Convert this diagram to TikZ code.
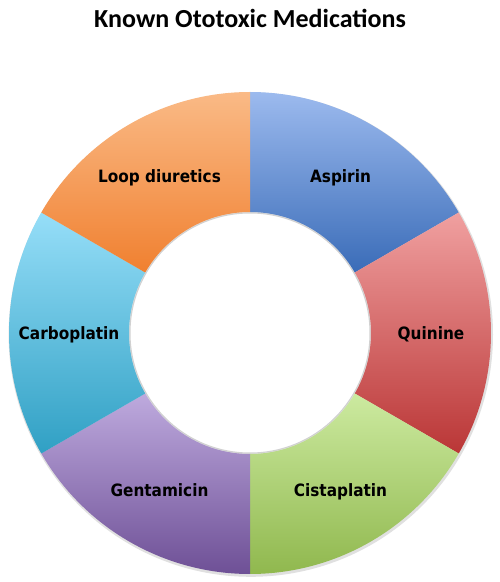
\documentclass[tikz,border=0pt]{standalone}
\usepackage{fontspec}
\setmainfont{Carlito}
\newfontfamily\labfont{DejaVu Sans}[FakeStretch=0.9]
\begin{document}
\begin{tikzpicture}[x=1pt,y=1pt,
  lbl/.style={font=\labfont\bfseries\fontsize{17}{20}\selectfont, text=black, inner sep=0pt, anchor=base, yshift=-6.3pt},
  ttl/.style={font=\bfseries\fontsize{26}{30}\selectfont, text=black, inner sep=0pt, anchor=base}]
\useasboundingbox (0,0) rectangle (500,582);
\fill[white] (0,0) rectangle (500,582);
\node[ttl] (title) at (250,554) {Known Ototoxic Medications};
\def\Ro{241}
\def\Ri{121}
\def\Rm{181}
\begin{scope}[shift={(250,249)}]
  % shadow
  \fill[black!12] (0.8,-1.6) circle (\Ro+1.2);
  \fill[white] (0,0) circle (\Ri-0.5);
  \draw[black!18, line width=1.2] (0,0) circle (\Ri-0.9);
  \newcommand\seg[4]{%
    \path[top color=#3, bottom color=#4, shading angle=0]
      (#1:\Ro) arc[start angle=#1, end angle=#2, radius=\Ro]
      -- (#2:\Ri) arc[start angle=#2, end angle=#1, radius=\Ri] -- cycle;}
  \definecolor{asT}{RGB}{156,186,238}
  \definecolor{asB}{RGB}{58,108,184}
  \definecolor{quT}{RGB}{240,160,160}
  \definecolor{quB}{RGB}{186,54,54}
  \definecolor{ciT}{RGB}{204,234,160}
  \definecolor{ciB}{RGB}{144,184,78}
  \definecolor{geT}{RGB}{190,170,222}
  \definecolor{geB}{RGB}{110,80,150}
  \definecolor{caT}{RGB}{150,222,248}
  \definecolor{caB}{RGB}{48,160,196}
  \definecolor{loT}{RGB}{250,186,134}
  \definecolor{loB}{RGB}{240,128,48}
  \seg{90}{30}{asT}{asB}
  \seg{30}{-30}{quT}{quB}
  \seg{-30}{-90}{ciT}{ciB}
  \seg{-90}{-150}{geT}{geB}
  \seg{-150}{-210}{caT}{caB}
  \seg{150}{90}{loT}{loB}
  \node[lbl] (asp) at (60:\Rm) {Aspirin};
  \node[lbl] (qui) at (0:\Rm) {Quinine};
  \node[lbl] (cis) at (-60:\Rm) {Cistaplatin};
  \node[lbl] (gen) at (-120:\Rm) {Gentamicin};
  \node[lbl] (car) at (180:\Rm) {Carboplatin};
  \node[lbl] (loo) at (120:\Rm) {Loop diuretics};
\end{scope}
\end{tikzpicture}
\end{document}
